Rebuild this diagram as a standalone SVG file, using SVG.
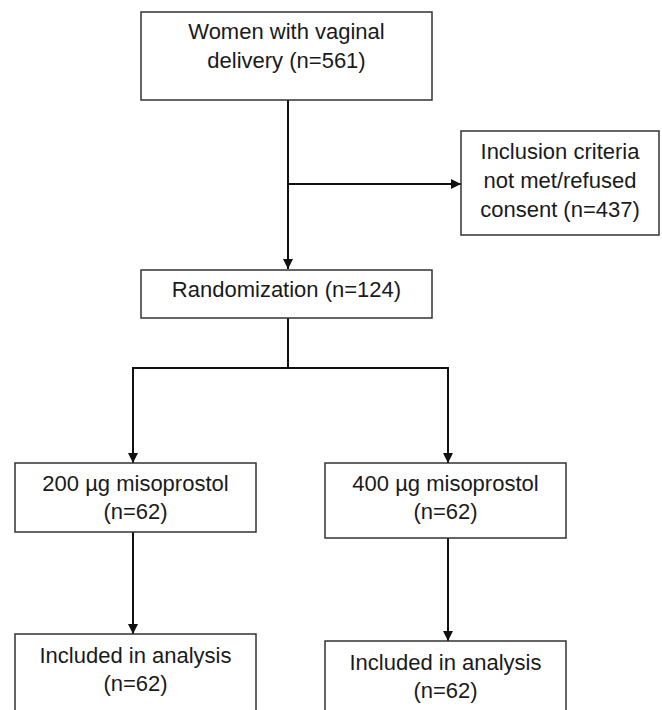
<svg xmlns="http://www.w3.org/2000/svg" width="662" height="710" viewBox="0 0 662 710">
<style>
.box{fill:#fff;stroke:#333;stroke-width:1.5}
.t{font-family:"Liberation Sans",Arial,sans-serif;font-size:22px;fill:#1a1a1a;text-anchor:middle}
.c{stroke:#111;stroke-width:2;fill:none}
</style>
<defs>
<marker id="ah" markerUnits="userSpaceOnUse" markerWidth="10" markerHeight="10" refX="10" refY="5" orient="auto">
<path d="M0,0 L10,5 L0,10 z" fill="#111"/>
</marker>
</defs>
<rect width="662" height="710" fill="#fff"/>
<g id="connectors">
<line class="c" x1="288" y1="100" x2="288" y2="269" marker-end="url(#ah)"/>
<line class="c" x1="288" y1="184" x2="461" y2="184" marker-end="url(#ah)"/>
<line class="c" x1="288" y1="318" x2="288" y2="368"/>
<line class="c" x1="132" y1="368" x2="449" y2="368"/>
<line class="c" x1="133" y1="367" x2="133" y2="463" marker-end="url(#ah)"/>
<line class="c" x1="448" y1="367" x2="448" y2="463" marker-end="url(#ah)"/>
<line class="c" x1="133" y1="532" x2="133" y2="634" marker-end="url(#ah)"/>
<line class="c" x1="448" y1="538" x2="448" y2="641" marker-end="url(#ah)"/>
</g>
<g id="women">
<rect class="box" x="141" y="12" width="291" height="88"/>
<text class="t" x="286.5" y="39">Women with vaginal</text>
<text class="t" x="286.5" y="68">delivery (n=561)</text>
</g>
<g id="excluded">
<rect class="box" x="461" y="131" width="198" height="104"/>
<text class="t" x="560" y="159">Inclusion criteria</text>
<text class="t" x="560" y="188">not met/refused</text>
<text class="t" x="560" y="217">consent (n=437)</text>
</g>
<g id="randomization">
<rect class="box" x="141" y="270" width="291" height="48"/>
<text class="t" x="286.5" y="297">Randomization (n=124)</text>
</g>
<g id="arm200">
<rect class="box" x="15" y="463" width="241" height="69"/>
<text class="t" x="135.5" y="491">200 µg misoprostol</text>
<text class="t" x="135.5" y="519">(n=62)</text>
</g>
<g id="arm400">
<rect class="box" x="325" y="463" width="241" height="75"/>
<text class="t" x="445.5" y="491">400 µg misoprostol</text>
<text class="t" x="445.5" y="519">(n=62)</text>
</g>
<g id="analysis200">
<rect class="box" x="15" y="634" width="241" height="90"/>
<text class="t" x="135.5" y="663">Included in analysis</text>
<text class="t" x="135.5" y="691">(n=62)</text>
</g>
<g id="analysis400">
<rect class="box" x="325" y="641" width="241" height="90"/>
<text class="t" x="445.5" y="670">Included in analysis</text>
<text class="t" x="445.5" y="698">(n=62)</text>
</g>
</svg>
